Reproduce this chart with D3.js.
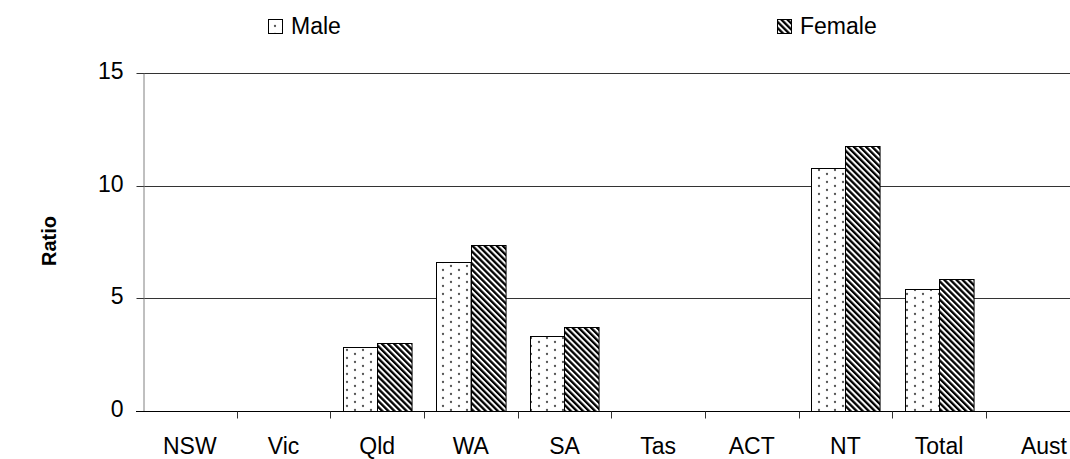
<!DOCTYPE html>
<html><head><meta charset="utf-8">
<script src="https://cdn.jsdelivr.net/npm/d3@7"></script>
<style>
html,body{margin:0;padding:0;background:#fff;}
svg{display:block;font-family:"Liberation Sans",Arial,sans-serif;}
</style></head>
<body>
<svg id="chart" width="1070" height="459"></svg>
<script>
const categories = ["NSW","Vic","Qld","WA","SA","Tas","ACT","NT","Total","Aust"];
const seriesNames = ["Male","Female"];
const maleValues   = [null, null, 2.85, 6.6, 3.35, null, null, 10.8, 5.42, null];
const femaleValues = [null, null, 3.03, 7.35, 3.75, null, null, 11.77, 5.86, null];
const yTicks = [0, 5, 10, 15];
const yLabel = "Ratio";

(function(){
const svg = d3.select("#chart");
const mLeft = 143, mRight = 1079.6, mTop = 73, mBottom = 411;
const FS = 23;

const defs = svg.append("defs");
const dots = defs.append("pattern").attr("id","dots").attr("patternUnits","userSpaceOnUse")
  .attr("width",16).attr("height",8);
dots.append("rect").attr("width",16).attr("height",8).attr("fill","#fff");
dots.append("circle").attr("cx",3).attr("cy",2).attr("r",1.15).attr("fill","#555");
dots.append("circle").attr("cx",11).attr("cy",6).attr("r",1.15).attr("fill","#555");
const stripes = defs.append("pattern").attr("id","stripes").attr("patternUnits","userSpaceOnUse")
  .attr("width",4.3).attr("height",10).attr("patternTransform","rotate(-45)");
stripes.append("rect").attr("width",4.3).attr("height",10).attr("fill","#fff");
stripes.append("rect").attr("width",2.3).attr("height",10).attr("fill","#000");
const fills = {Male:"url(#dots)", Female:"url(#stripes)"};

const x = d3.scaleBand().domain(categories).range([mLeft, mRight]).padding(0);
const bw = x.bandwidth();
const x1 = d3.scaleBand().domain(seriesNames).range([bw*0.131, bw*0.869]).padding(0);
const y = d3.scaleLinear().domain([0, 15]).range([mBottom, mTop]);

// gridlines
svg.append("g").selectAll("line").data(yTicks.filter(d => d > 0)).join("line")
  .attr("x1", mLeft).attr("x2", mRight)
  .attr("y1", d => Math.round(y(d)) + 0.5).attr("y2", d => Math.round(y(d)) + 0.5)
  .attr("stroke", "#333").attr("stroke-width", 1);

// y axis
const yAxis = d3.axisLeft(y).tickValues(yTicks).tickSize(7).tickPadding(13).tickSizeOuter(0);
const gy = svg.append("g").attr("transform", `translate(${mLeft + 0.5},0)`).call(yAxis);
gy.select(".domain").attr("stroke", "#808080");
gy.selectAll(".tick line").attr("stroke", "#333");
gy.selectAll("text").attr("font-size", FS).attr("fill", "#000").attr("dy", "0.25em")
  .attr("font-family", '"Liberation Sans",Arial,sans-serif');
gy.selectAll(".tick").attr("transform", d => `translate(0,${Math.round(y(d)) + 0.5})`);

// bars
const data = [];
categories.forEach((c, i) => {
  [["Male", maleValues[i]], ["Female", femaleValues[i]]].forEach(([s, v]) => {
    if (v != null) data.push({c, s, v});
  });
});
svg.append("g").selectAll("rect").data(data).join("rect")
  .attr("x", d => Math.round(x(d.c) + x1(d.s)) + 0.5)
  .attr("y", d => Math.round(y(d.v)) + 0.5)
  .attr("width", x1.bandwidth())
  .attr("height", d => Math.round(y(0)) - Math.round(y(d.v)))
  .attr("fill", d => fills[d.s])
  .attr("stroke", "#000").attr("stroke-width", 1);

// x axis
const gx = svg.append("g").attr("transform", `translate(0,${Math.round(mBottom) + 0.5})`);
gx.append("line").attr("x1", mLeft - 7).attr("x2", mRight).attr("stroke", "#000");
gx.selectAll("line.tk").data(categories.slice(1)).join("line").attr("class","tk")
  .attr("x1", d => Math.round(x(d)) + 0.5).attr("x2", d => Math.round(x(d)) + 0.5)
  .attr("y1", 0).attr("y2", 7).attr("stroke", "#333");
gx.selectAll("text").data(categories).join("text")
  .attr("x", (d, i) => i === categories.length - 1 ? 1044 : x(d) + bw / 2)
  .attr("y", 42.5).attr("text-anchor", "middle")
  .attr("font-size", FS).text(d => d);

// y label
svg.append("text").attr("transform", "translate(56,241) rotate(-90)")
  .attr("text-anchor", "middle").attr("font-size", 20).attr("font-weight", "bold").text(yLabel);

// legend
const legendPos = {Male: 268, Female: 777};
seriesNames.forEach(s => {
  const g = svg.append("g");
  g.append("rect").attr("x", legendPos[s] + 0.5).attr("y", 19.5).attr("width", 14).attr("height", 14)
    .attr("fill", fills[s]).attr("stroke", "#000");
  g.append("text").attr("x", legendPos[s] + 23).attr("y", 34).attr("font-size", FS).text(s);
});
})();
</script>
</body></html>
